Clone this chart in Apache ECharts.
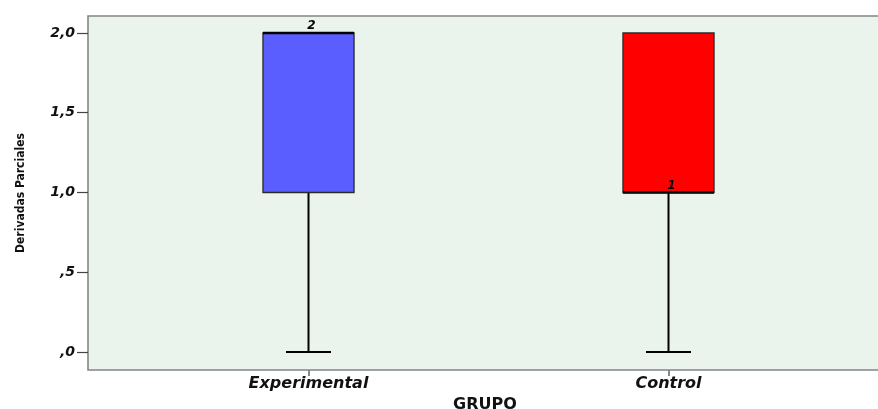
<!DOCTYPE html>
<html>
<head>
<meta charset="utf-8">
<script src="https://cdn.jsdelivr.net/npm/echarts@6/dist/echarts.min.js"></script>
<style>
html,body{margin:0;padding:0;background:#fff;}
#chart{width:878px;height:409px;}
</style>
</head>
<body>
<div id="chart"></div>
<script>
// ---- data ----
const categories = ['Experimental', 'Control'];
const minValues = [0, 0];
const q1Values = [1, 1];
const medianValues = [2, 1];
const q3Values = [2, 2];
const maxValues = [2, 2];
const caseLabels = ['2', '1'];
const caseLabelValues = [2, 1];
const yTickValues = [0, 0.5, 1, 1.5, 2];
const yTickLabels = [',0', ',5', '1,0', '1,5', '2,0'];
const yAxisTitle = 'Derivadas Parciales';
const xAxisTitle = 'GRUPO';

// ---- styles ----
const boxFill = ['#5a5eff', '#ff0000'];
const FONT = 'DejaVu Sans';
const Y_MIN = -0.1129, Y_MAX = 2.1066;

const chart = echarts.init(document.getElementById('chart'), null, {renderer: 'canvas'});

const seriesData = categories.map((c, i) => [i, minValues[i], q1Values[i], medianValues[i], q3Values[i], maxValues[i], caseLabelValues[i]]);

function renderItem(params, api) {
  const i = api.value(0);
  const band = api.size([1, 0])[0];
  const bw = band * 0.253;
  const capW = band * 0.125;
  const pMin = api.coord([i, api.value(1)]);
  const pQ1 = api.coord([i, api.value(2)]);
  const pMed = api.coord([i, api.value(3)]);
  const pQ3 = api.coord([i, api.value(4)]);
  const pMax = api.coord([i, api.value(5)]);
  const pLab = api.coord([i, api.value(6)]);
  const cx = pMin[0];
  const children = [];
  children.push({type: 'line', shape: {x1: cx, y1: pMin[1], x2: cx, y2: pQ1[1]}, style: {stroke: '#000', lineWidth: 2}});
  if (pMax[1] !== pQ3[1]) {
    children.push({type: 'line', shape: {x1: cx, y1: pQ3[1], x2: cx, y2: pMax[1]}, style: {stroke: '#000', lineWidth: 2}});
    children.push({type: 'line', shape: {x1: cx - capW / 2, y1: pMax[1], x2: cx + capW / 2, y2: pMax[1]}, style: {stroke: '#000', lineWidth: 2}});
  }
  if (pMin[1] !== pQ1[1]) {
    children.push({type: 'line', shape: {x1: cx - capW / 2, y1: pMin[1], x2: cx + capW / 2, y2: pMin[1]}, style: {stroke: '#000', lineWidth: 2}});
  }
  children.push({type: 'rect', shape: {x: cx - bw / 2, y: pQ3[1], width: bw, height: pQ1[1] - pQ3[1]},
    style: {fill: boxFill[params.dataIndex], stroke: '#2a2a2a', lineWidth: 1.3}});
  children.push({type: 'line', shape: {x1: cx - bw / 2, y1: pMed[1], x2: cx + bw / 2, y2: pMed[1]}, style: {stroke: '#000', lineWidth: 2.5}});
  children.push({type: 'text', x: cx + 3, y: pLab[1] - 7,
    style: {text: caseLabels[params.dataIndex], font: 'italic bold 12px "' + FONT + '"', fill: '#000', align: 'center', verticalAlign: 'middle'}});
  return {type: 'group', children: children};
}

const option = {
  animation: false,
  backgroundColor: '#ffffff',
  grid: [
    {left: 88, right: -4, top: 16, bottom: 39, show: true, backgroundColor: '#eaf4ec', borderColor: '#858585', borderWidth: 1.6,
     containLabel: false, outerBoundsMode: 'none'},
    {left: 128.5, right: 29.5, top: 16, bottom: 39, show: false, containLabel: false, outerBoundsMode: 'none'}
  ],
  xAxis: [
    {type: 'value', gridIndex: 0, min: 0, max: 1, axisLine: {show: false, onZero: false}, axisTick: {show: false},
     axisLabel: {show: false}, splitLine: {show: false},
     name: xAxisTitle, nameLocation: 'middle', nameGap: 27,
     nameTextStyle: {fontFamily: FONT, fontWeight: 'bold', fontSize: 16, color: '#111'}},
    {type: 'category', gridIndex: 1, data: categories, boundaryGap: true, position: 'bottom',
     axisLine: {show: false, onZero: false},
     axisTick: {show: true, alignWithLabel: true, length: 6, lineStyle: {color: '#888', width: 2}},
     axisLabel: {margin: 6, fontFamily: FONT, fontWeight: 'bold', fontStyle: 'italic', fontSize: 16, color: '#111'},
     splitLine: {show: false}}
  ],
  yAxis: [
    {type: 'value', gridIndex: 0, min: Y_MIN, max: Y_MAX,
     axisLine: {show: false, onZero: false},
     axisTick: {show: true, length: 11, customValues: yTickValues, lineStyle: {color: '#444', width: 1.2}},
     axisLabel: {show: true, margin: 13, customValues: yTickValues, fontFamily: FONT, fontWeight: 'bold', fontStyle: 'italic', fontSize: 14, color: '#111',
       formatter: function (v) { const k = yTickValues.findIndex(t => Math.abs(t - v) < 1e-6); return k >= 0 ? yTickLabels[k] : ''; }},
     splitLine: {show: false},
     name: yAxisTitle, nameLocation: 'middle', nameGap: 61, nameRotate: 90,
     nameTextStyle: {fontFamily: '"DejaVu Sans Condensed", "Liberation Sans Narrow", Roboto, sans-serif', fontSize: 12, fontWeight: 'bold', color: '#111'}},
    {type: 'value', gridIndex: 1, min: Y_MIN, max: Y_MAX, show: false, splitLine: {show: false}}
  ],
  series: [{
    type: 'custom',
    xAxisIndex: 1, yAxisIndex: 1,
    renderItem: renderItem,
    encode: {x: 0, y: [1, 2, 3, 4, 5]},
    data: seriesData,
    clip: false
  }]
};
chart.setOption(option);
</script>
</body>
</html>
